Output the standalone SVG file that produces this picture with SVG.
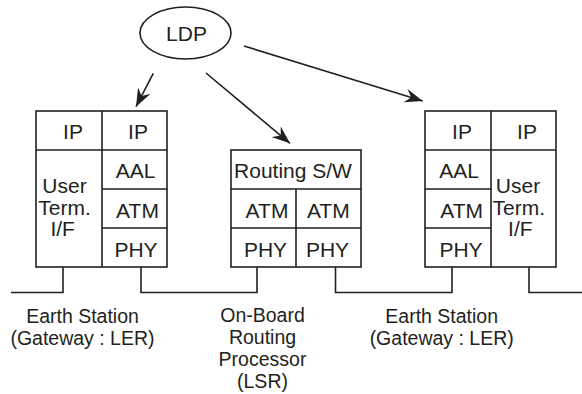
<svg xmlns="http://www.w3.org/2000/svg" width="582" height="394" viewBox="0 0 582 394">
<style>
.b{fill:#fff;stroke:#231f20;stroke-width:1.6}
.l{fill:none;stroke:#231f20;stroke-width:1.6}
.t{font-family:"Liberation Sans",Arial,sans-serif;font-size:21px;fill:#231f20;text-anchor:middle}
.s{font-family:"Liberation Sans",Arial,sans-serif;font-size:19.5px;fill:#231f20;text-anchor:middle}
</style>
<defs>
<marker id="ah" viewBox="0 0 18 14" refX="18" refY="7" markerWidth="18" markerHeight="14" markerUnits="userSpaceOnUse" orient="auto">
<path d="M0,0 L18,7 L0,14 L6,7 Z" fill="#231f20"/>
</marker>
</defs>
<rect width="582" height="394" fill="#fff"/>
<g id="ldp">
<ellipse class="b" cx="185.5" cy="33" rx="45.5" ry="26"/>
<text class="t" x="186.5" y="40.5">LDP</text>
</g>
<g id="left-station">
<rect class="b" x="36" y="111" width="131" height="156"/>
<path class="l" d="M102,111 V267 M36,150 H167 M102,189 H167 M102,228 H167"/>
<text class="t" x="73" y="139">IP</text>
<text class="t" x="138" y="139">IP</text>
<text class="t" x="135.5" y="178">AAL</text>
<text class="t" x="137.5" y="218">ATM</text>
<text class="t" x="136" y="257">PHY</text>
<text class="t" x="64.5" y="193">User</text>
<text class="t" x="64.5" y="214.5">Term.</text>
<text class="t" x="62.7" y="236">I/F</text>
</g>
<g id="center-processor">
<rect class="b" x="231" y="150" width="130" height="117"/>
<path class="l" d="M231,189 H361 M296,189 V267 M231,228 H361"/>
<text class="t" x="293" y="178">Routing S/W</text>
<text class="t" x="267" y="218">ATM</text>
<text class="t" x="328.3" y="218">ATM</text>
<text class="t" x="265.5" y="257">PHY</text>
<text class="t" x="327.5" y="257">PHY</text>
</g>
<g id="right-station">
<rect class="b" x="425" y="111" width="131" height="156"/>
<path class="l" d="M491,111 V267 M425,150 H556 M425,189 H491 M425,228 H491"/>
<text class="t" x="462" y="139">IP</text>
<text class="t" x="527" y="139">IP</text>
<text class="t" x="459" y="178">AAL</text>
<text class="t" x="461.7" y="218">ATM</text>
<text class="t" x="461" y="257">PHY</text>
<text class="t" x="518" y="193">User</text>
<text class="t" x="518.8" y="214.5">Term.</text>
<text class="t" x="520.3" y="236">I/F</text>
</g>
<g id="connectors">
<path class="l" d="M153.3,73.3 L136,106.7" marker-end="url(#ah)"/>
<path class="l" d="M206,73 L290,143.3" marker-end="url(#ah)"/>
<path class="l" d="M244,46 L422.7,101" marker-end="url(#ah)"/>
<path class="l" d="M63,267 V292.5 H11"/>
<path class="l" d="M141,267 V292.5 H257 V267"/>
<path class="l" d="M335.5,267 V292.5 H452 V267"/>
<path class="l" d="M529,267 V292.5 H582"/>
</g>
<g id="labels">
<text class="s" x="82.5" y="322.5">Earth Station</text>
<text class="s" x="82.5" y="344.5">(Gateway : LER)</text>
<text class="s" x="262.5" y="321.7">On-Board</text>
<text class="s" x="262.5" y="343.5">Routing</text>
<text class="s" x="262.5" y="365.7">Processor</text>
<text class="s" x="262.5" y="387.7">(LSR)</text>
<text class="s" x="441.7" y="322.5">Earth Station</text>
<text class="s" x="441.7" y="344.5">(Gateway : LER)</text>
</g>
</svg>
